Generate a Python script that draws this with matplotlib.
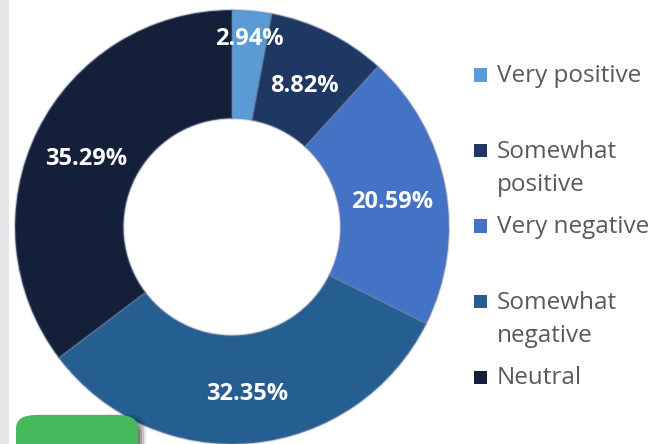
import numpy as np
import matplotlib
matplotlib.use("Agg")
import matplotlib.pyplot as plt
from matplotlib.patches import FancyBboxPatch, Rectangle

plt.rcParams["font.family"] = ["Open Sans", "DejaVu Sans"]

# data
categories = ["Very positive", "Somewhat positive", "Very negative",
              "Somewhat negative", "Neutral"]
legend_labels = ["Very positive", "Somewhat\npositive", "Very negative",
                 "Somewhat\nnegative", "Neutral"]
shares = [2.94, 8.82, 20.59, 32.35, 35.29]
colors = ["#5B9BD5", "#1F3763", "#4472C4", "#255E91", "#141F3A"]

W, H = 670, 444
fig = plt.figure(figsize=(W / 100, H / 100), dpi=100)
fig.patch.set_facecolor("white")

# gray strip on the left
fig.patches.append(Rectangle((0, 0), 9 / W, 1, transform=fig.transFigure,
                             facecolor="#E6E7E9", edgecolor="none"))

# donut
cx, cy, r = 232, 227, 217
ax = fig.add_axes([(cx - r) / W, (H - cy - r) / H, 2 * r / W, 2 * r / H])
wedges, texts, autotexts = ax.pie(
    shares, colors=colors, startangle=90, counterclock=False,
    autopct="%.2f%%", pctdistance=0.75,
    wedgeprops=dict(width=0.5, edgecolor=(0.45, 0.5, 0.65, 0.35), linewidth=1.5),
    textprops=dict(color="white", fontsize=17, fontweight="bold"))
ax.set_xlim(-1, 1)
ax.set_ylim(-1, 1)
ax.set_aspect("equal")
ax.axis("off")

# label positions: small slice pushed outward, all nudged down a little
for i, (w, t) in enumerate(zip(wedges, autotexts)):
    mid = np.deg2rad((w.theta1 + w.theta2) / 2)
    rr = 0.89 if i == 0 else 0.75
    t.set_position((rr * np.cos(mid), rr * np.sin(mid) - 0.022))

# green button with its shadow, on top of the donut
for k, a in enumerate([0.10, 0.14, 0.18, 0.22]):
    fig.patches.append(FancyBboxPatch(((16 + 8 - 2 * k) / W, -20 / H), 122 / W, (50 - 2 * k) / H,
                                      boxstyle="round,pad=0,rounding_size=0.03",
                                      transform=fig.transFigure,
                                      facecolor="black", alpha=a, edgecolor="none",
                                      zorder=4))
fig.patches.append(FancyBboxPatch((16 / W, -20 / H), 122 / W, 49 / H,
                                  boxstyle="round,pad=0,rounding_size=0.03",
                                  transform=fig.transFigure,
                                  facecolor="#47B95D", edgecolor="none",
                                  zorder=5))

# legend, one slot per category
for i, (lab, col) in enumerate(zip(legend_labels, colors)):
    ymid = 75 + i * 75.5
    fig.patches.append(Rectangle((474 / W, 1 - (ymid + 6.5) / H), 13 / W, 13 / H,
                                 transform=fig.transFigure,
                                 facecolor=col, edgecolor="none"))
    fig.text(497 / W, 1 - (ymid - 11) / H, lab, fontsize=17.5, color="#595959",
             va="top", ha="left", linespacing=1.55,
             transform=fig.transFigure)

fig.savefig("out.png", dpi=100)
